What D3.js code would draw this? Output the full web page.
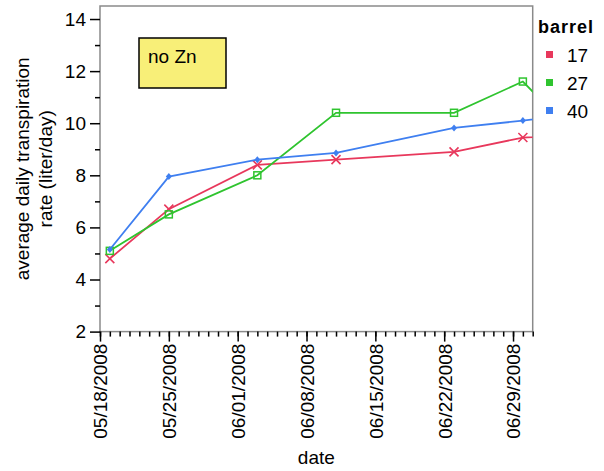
<!DOCTYPE html>
<html>
<head>
<meta charset="utf-8">
<script src="https://cdn.jsdelivr.net/npm/d3@7"></script>
<style>
  body { margin: 0; background: #fff; }
  svg text { font-family: "Liberation Sans", Arial, sans-serif; }
</style>
</head>
<body>
<div id="chart"></div>
<script>
// data
const dates = ['2008-05-19', '2008-05-25', '2008-06-03', '2008-06-11', '2008-06-23', '2008-06-30', '2008-07-07']
const barrels = ['17', '27', '40']
const barrel17 = [4.8, 6.7, 8.4, 8.6, 8.9, 9.45, 9.55]
const barrel27 = [5.1, 6.5, 8.0, 10.4, 10.4, 11.6, 8.9]
const barrel40 = [5.15, 7.95, 8.6, 8.86, 9.82, 10.1, 10.4]
const yTicks = [2, 4, 6, 8, 10, 12, 14]
const xTicks = ['2008-05-18', '2008-05-25', '2008-06-01', '2008-06-08', '2008-06-15', '2008-06-22', '2008-06-29']
const xDomain = ['2008-05-18', '2008-07-01']

const fullWidth = 604
const fullHeight = 471
const plotLeft = 100, plotRight = 532.7, plotTop = 6, plotBottom = 331.6
const font = '"Liberation Sans", Arial, sans-serif'

const parse = d3.utcParse('%Y-%m-%d')
const fmt = d3.utcFormat('%m/%d/%Y')
const colours = ['#e8385c', '#2fc42f', '#3f7ff0']
const seriesValues = [barrel17, barrel27, barrel40]

const svg = d3.select('#chart').append('svg')
    .attr('width', fullWidth)
    .attr('height', fullHeight)
    .style('font-family', font)

const x = d3.scaleUtc()
    .domain(xDomain.map(parse))
    .range([plotLeft, plotRight])
const y = d3.scaleLinear()
    .domain([2, 14.5])
    .range([plotBottom, plotTop])

svg.append('defs').append('clipPath').attr('id', 'plot')
    .append('rect')
    .attr('x', plotLeft).attr('y', plotTop)
    .attr('width', plotRight - plotLeft).attr('height', plotBottom - plotTop)

// frame
svg.append('rect')
    .attr('x', plotLeft).attr('y', plotTop)
    .attr('width', plotRight - plotLeft).attr('height', plotBottom - plotTop)
    .attr('fill', 'none')
    .attr('stroke', '#8a8a8a')
    .attr('stroke-width', 1.5)

// y axis
const yMinor = d3.range(3, 15, 2)
const yAxis = svg.append('g').attr('transform', `translate(${plotLeft},0)`)
yAxis.append('g')
    .call(d3.axisLeft(y).tickValues(yMinor).tickSize(5).tickFormat(''))
yAxis.append('g')
    .call(d3.axisLeft(y).tickValues(yTicks).tickSize(10).tickPadding(4))
yAxis.selectAll('.domain').remove()
yAxis.selectAll('g').attr('font-family', null)
yAxis.selectAll('line').attr('stroke', '#000').attr('stroke-width', 1.5)
yAxis.selectAll('text')
    .style('font-size', '19px')
    .attr('fill', '#000')

// x axis
const days = d3.utcDay.range(parse(xDomain[0]), d3.utcDay.offset(parse(xDomain[1]), 1))
const xAxis = svg.append('g').attr('transform', `translate(0,${plotBottom})`)
xAxis.append('g')
    .call(d3.axisBottom(x).tickValues(days).tickSize(5).tickFormat(''))
xAxis.append('g').attr('class', 'major')
    .call(d3.axisBottom(x).tickValues(xTicks.map(parse)).tickSize(10).tickFormat(fmt))
xAxis.selectAll('.domain').remove()
xAxis.selectAll('g').attr('font-family', null)
xAxis.selectAll('line').attr('stroke', '#000').attr('stroke-width', 1.5)
xAxis.select('.major').selectAll('text')
    .style('font-size', '19px')
    .attr('fill', '#000')
    .attr('text-anchor', 'end')
    .attr('transform', 'rotate(-90)')
    .attr('x', -12)
    .attr('y', 0)
    .attr('dy', '0.36em')

// axis titles
svg.append('text')
    .attr('x', (plotLeft + plotRight) / 2)
    .attr('y', 464)
    .attr('text-anchor', 'middle')
    .style('font-size', '19px')
    .text('date')

const yTitle = svg.append('text')
    .attr('transform', `translate(0,${(plotTop + plotBottom) / 2}) rotate(-90)`)
    .attr('text-anchor', 'middle')
    .style('font-size', '19px')
yTitle.append('tspan').attr('x', 0).attr('y', 29).text('average daily transpiration')
yTitle.append('tspan').attr('x', 0).attr('y', 52).text('rate (liter/day)')

// annotation box
svg.append('rect')
    .attr('x', 139).attr('y', 38)
    .attr('width', 87).attr('height', 50)
    .attr('fill', '#f8ef78')
    .attr('stroke', '#000')
    .attr('stroke-width', 1.5)
svg.append('text')
    .attr('x', 148).attr('y', 63)
    .style('font-size', '19px')
    .text('no Zn')

// lines and markers
const plot = svg.append('g').attr('clip-path', 'url(#plot)')
const line = d3.line()
    .x(d => x(d.date))
    .y(d => y(d.value))

barrels.forEach((b, i) => {
    const pts = dates.map((d, j) => ({ date: parse(d), value: seriesValues[i][j] }))
    plot.append('path')
        .datum(pts)
        .attr('fill', 'none')
        .attr('stroke', colours[i])
        .attr('stroke-width', 1.8)
        .attr('d', line)

    const m = plot.append('g').selectAll('g')
        .data(pts)
        .enter()
        .append('g')
        .attr('transform', d => `translate(${x(d.date)},${y(d.value)})`)
    if (i === 0) {
        m.append('path').attr('d', 'M-4.5,-4.5L4.5,4.5M-4.5,4.5L4.5,-4.5')
            .attr('stroke', colours[i]).attr('stroke-width', 1.6)
    } else if (i === 1) {
        m.append('rect').attr('x', -3.5).attr('y', -3.5).attr('width', 7).attr('height', 7)
            .attr('fill', 'none').attr('stroke', colours[i]).attr('stroke-width', 1.5)
    } else {
        m.append('path').attr('d', 'M0,-3.5L3,0L0,3.5L-3,0Z')
            .attr('fill', colours[i])
    }
})

// legend
svg.append('text')
    .attr('x', 538).attr('y', 33)
    .style('font-size', '18px')
    .style('font-weight', 'bold')
    .style('letter-spacing', '1px')
    .text('barrel')
const legend = svg.selectAll('.legend')
    .data(barrels)
    .enter()
    .append('g')
    .attr('class', 'legend')
    .attr('transform', (d, i) => `translate(0, ${i * 28})`)
legend.append('rect')
    .attr('x', 546).attr('y', 51)
    .attr('width', 7).attr('height', 7)
    .attr('fill', (d, i) => colours[i])
legend.append('text')
    .attr('x', 567).attr('y', 62)
    .style('font-size', '19px')
    .text(d => d)
</script>
</body>
</html>
